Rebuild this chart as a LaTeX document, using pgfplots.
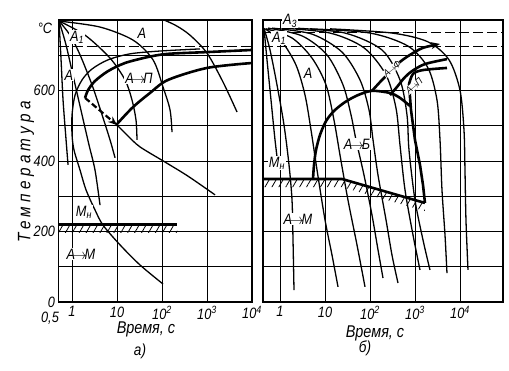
\documentclass[border=0pt]{standalone}
\usepackage{fontspec}
\setmainfont{Liberation Sans}[FakeStretch=0.85]
\usepackage{pgfplots}
\pgfplotsset{compat=1.18}
\usetikzlibrary{patterns.meta,arrows.meta}
\pgfplotsset{
  cct/.style={
    scale only axis, height=282pt, ymin=0, ymax=800,
    axis line style={line width=1.8pt},
    grid=major, major grid style={black, line width=0.8pt},
    ytick={0,100,...,800},
    tick style={draw=none},
    /pgf/number format/assume math mode=true,
    ticklabel style={font=\itshape\fontsize{15}{16}\selectfont},
    xticklabel style={yshift=-1pt},
  },
  thinc/.style={black, line width=1.3pt, smooth},
  thickc/.style={black, line width=2.6pt, smooth},
}
\begin{document}
\begin{tikzpicture}[x=1pt,y=1pt]
\useasboundingbox (0,0) rectangle (509,370);
% ---------------- left panel a)
\begin{axis}[cct, at={(58.5pt,68pt)}, anchor=south west, width=193.5pt,
  xmin=-0.30103, xmax=4, xtick={-0.30103,0,1,2,3,4},
  xticklabels={{},1,10,10\textsuperscript{2},10\textsuperscript{3},10\textsuperscript{4}},
  yticklabels={0,,200,,400,,600,,}]
\addplot[draw=none, pattern={Lines[angle=60,distance=6pt,line width=0.8pt]}] coordinates {(-0.3,220) (2.333,220) (2.333,197) (-0.3,197)} -- cycle;
\addplot[black, line width=2.6pt] coordinates {(-0.3,220) (2.333,220)};
\addplot[black, line width=1pt, dash pattern=on 10pt off 4pt] coordinates {(-0.3,725) (4,725)};
% cooling curves
\addplot[thinc] coordinates {(-0.289,797) (-0.244,687) (-0.2,573) (-0.133,460) (-0.089,389)};
\addplot[thinc] coordinates {(-0.289,797) (-0.133,729) (0.044,630) (0.222,531) (0.378,445) (0.511,374) (0.622,275)};
\addplot[thinc] coordinates {(-0.289,797) (-0.044,757) (0.178,701) (0.444,616) (0.667,531) (0.844,460) (0.956,409)};
\addplot[thinc] coordinates {(-0.289,797) (0.289,757) (0.844,692) (1.178,630) (1.333,573) (1.422,516) (1.444,460)};
\addplot[thinc] coordinates {(-0.289,797) (0.622,780) (1.356,743) (1.8,687) (2.022,610) (2.178,545) (2.222,482)};
\addplot[thinc] coordinates {(1.95,805) (2.3,785) (2.622,757) (3.0,706) (3.356,624) (3.667,539)};
% isothermal curves (thin)
\addplot[thinc] coordinates {(2.844,718) (1.956,712) (1.289,704) (0.8,687) (0.444,661) (0.222,630) (0.067,587) (0,531) (0,474) (0.044,431) (0.178,374) (0.311,318) (0.511,261) (0.689,218) (1.067,162) (1.511,105) (2.022,51)};
\addplot[thinc] coordinates {(1.0,502) (1.244,471) (1.511,440) (2.067,397) (2.578,357) (3.178,304)};
% transformation curves (thick)
\addplot[thickc] coordinates {(4.0,715) (3.0,709) (2.133,704) (1.689,695) (1.178,678) (0.8,655) (0.511,627) (0.356,601) (0.289,579)};
\addplot[thickc] coordinates {(4.0,678) (3.0,664) (2.133,630) (1.733,593) (1.356,553) (1.022,508) (1.0,502)};
\addplot[black, line width=2.2pt, dash pattern=on 6pt off 3pt, -{Stealth[length=9pt,width=7pt]}] coordinates {(0.289,579) (1.0,502)};
\end{axis}
% ---------------- right panel b)
\begin{axis}[cct, at={(263pt,68pt)}, anchor=south west, width=240pt,
  xmin=-0.378, xmax=4.956, xtick={0,1,2,3,4},
  xticklabels={1,10,10\textsuperscript{2},10\textsuperscript{3},10\textsuperscript{4}},
  yticklabels={}]
\addplot[draw=none, pattern={Lines[angle=60,distance=6pt,line width=0.8pt]}] coordinates {(-0.378,349) (1.378,349) (3.222,281) (3.222,258) (1.378,326) (-0.378,326)} -- cycle;
\addplot[black, line width=2.6pt] coordinates {(-0.378,349) (1.378,349) (3.222,281)};
\addplot[black, line width=1pt, dash pattern=on 10pt off 4pt] coordinates {(-0.378,765) (4.956,765)};
\addplot[black, line width=1pt, dash pattern=on 10pt off 4pt] coordinates {(-0.378,725) (4.956,725)};
% cooling curves
\addplot[thinc] coordinates {(-0.356,777) (-0.289,687) (-0.2,573) (-0.111,460) (-0.044,389)};
\addplot[thinc] coordinates {(-0.356,777) (-0.222,715) (-0.067,616) (0.089,502) (0.2,389) (0.267,289) (0.289,176) (0.311,34)};
\addplot[thinc] coordinates {(-0.333,775) (0.044,738) (0.356,672) (0.556,587) (0.689,488) (0.822,375) (1.0,233) (1.156,133) (1.289,43)};
\addplot[thinc] coordinates {(-0.311,775) (0.267,749) (0.711,692) (1.022,616) (1.2,516) (1.333,417) (1.511,289) (1.711,162) (1.889,43)};
\addplot[thinc] coordinates {(-0.267,777) (0.489,755) (1.044,701) (1.4,616) (1.578,531) (1.689,460) (1.867,360) (2.044,247) (2.178,148) (2.289,68)};
\addplot[thinc] coordinates {(-0.178,777) (0.711,760) (1.378,709) (1.778,630) (1.978,545) (2.067,460) (2.178,360) (2.356,233) (2.489,133) (2.622,54)};
\addplot[thinc] coordinates {(0.044,777) (1.111,763) (1.867,721) (2.356,644) (2.578,550) (2.667,445) (2.778,318) (2.956,190) (3.111,91)};
\addplot[thinc] coordinates {(0.333,777) (1.444,763) (2.267,715) (2.667,630) (2.822,531) (2.867,431) (3.0,289) (3.178,176) (3.333,91)};
\addplot[thinc] coordinates {(0.667,775) (2.0,763) (2.844,726) (3.289,664) (3.489,573) (3.556,460) (3.6,318) (3.667,190) (3.711,82)};
\addplot[thinc] coordinates {(1.111,775) (2.489,763) (3.289,738) (3.756,687) (4.0,601) (4.089,488) (4.111,375) (4.133,233) (4.178,91)};
% transformation curves
\addplot[thickc] coordinates {(0.733,349) (0.756,389) (0.8,431) (0.889,474) (1.022,513) (1.2,542) (1.444,567) (1.733,587) (2.044,599) (2.444,593) (2.667,579) (2.889,556)};
\addplot[thickc, -{Stealth[length=9pt,width=7pt]}] coordinates {(2.044,599) (2.267,630) (2.444,652) (2.667,681) (2.889,701) (3.178,721) (3.556,732)};
\addplot[thickc] coordinates {(2.444,587) (2.6,610) (2.756,635) (2.933,655) (3.222,675) (3.711,689)};
\addplot[thickc] coordinates {(2.867,618) (2.956,647) (3.178,658) (3.711,664)};
\addplot[black, line width=2.6pt] coordinates {(2.867,618) (2.911,545) (3.0,460) (3.111,389) (3.178,332) (3.222,281)};
\end{axis}
% ---------------- labels
\begin{scope}[every node/.style={font=\itshape\fontsize{15}{16}\selectfont, inner sep=1pt}]
\node at (45,342) {°C};
\node at (50,52) {0,5};
\node[fill=white] at (77,333) {А\textsubscript{1}};
\node at (142,337) {А};
\node[fill=white] at (69,295) {А};
\node[fill=white] at (139,292) {А$\!\rightarrow\!$П};
\node[fill=white] at (84,158) {М\textsubscript{н}};
\node[fill=white] at (81,116) {А$\!\rightarrow\!$М};
\node[fill=white] at (290,349) {А\textsubscript{3}};
\node[fill=white] at (279,332) {А\textsubscript{1}};
\node[fill=white] at (308,297) {А};
\node[fill=white] at (357,226) {А$\!\rightarrow\!$Б};
\node[fill=white] at (277,207) {М\textsubscript{н}};
\node[fill=white] at (298,151) {А$\!\rightarrow\!$М};
\node[rotate=38, fill=white, inner sep=0.3pt, font=\itshape\fontsize{10}{11}\selectfont] at (392,301) {А$\!\rightarrow\!$Ф};
\node[rotate=40, fill=white, inner sep=0.3pt, font=\itshape\fontsize{10}{11}\selectfont] at (414,284) {А$\!\rightarrow\!$П};
\node[rotate=90, font=\itshape\fontsize{18}{19}\selectfont\addfontfeature{LetterSpace=24}] at (26,198) {Температура};
\node[font=\itshape\fontsize{17}{18}\selectfont] at (146,41) {Время, с};
\node[font=\itshape\fontsize{17}{18}\selectfont] at (375,37) {Время, с};
\node[font=\itshape\fontsize{16}{17}\selectfont] at (140,19) {а)};
\node[font=\itshape\fontsize{16}{17}\selectfont] at (365,22) {б)};
\end{scope}
\end{tikzpicture}
\end{document}
